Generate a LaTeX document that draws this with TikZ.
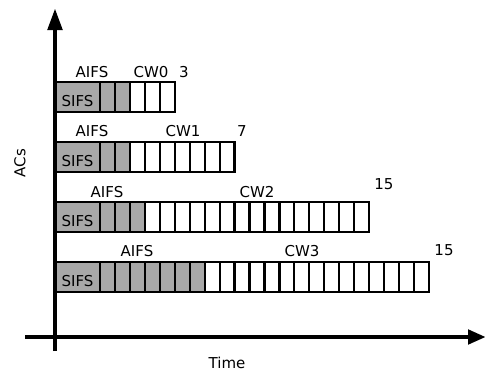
\documentclass[tikz,border=0pt]{standalone}
\usepackage{fontspec}
\setmainfont{DejaVu Sans}
\usetikzlibrary{arrows.meta}
\definecolor{cellgray}{RGB}{168,168,168}
\tikzset{
  cell/.style={draw=black, line width=2.2pt},
  axis/.style={line width=4.8pt, draw=black},
  lbl/.style={font=\fontsize{15}{17}\selectfont, inner sep=0pt},
}
\begin{document}
\begin{tikzpicture}[x=1pt,y=-1pt]
\useasboundingbox (0,0) rectangle (485,372);
\def\w{14.95}
% rows
\foreach \y/\g/\n [count=\r from 0] in {82/2/3, 142/2/7, 202/3/15, 262/7/15}{
  \draw[cell, fill=cellgray] (55,\y) rectangle (100,\y+30);
  \node[lbl] (sifs\r) at (77.5,\y+19.5) {SIFS};
  \foreach \k in {1,...,\g}{
    \draw[cell, fill=cellgray] ({100+(\k-1)*\w},\y) rectangle ({100+\k*\w},\y+30);
  }
  \foreach \k in {1,...,\n}{
    \draw[cell, fill=white] ({100+(\g+\k-1)*\w},\y) rectangle ({100+(\g+\k)*\w},\y+30);
  }
}
% labels
\node[lbl] (aifs0) at (92,72) {AIFS};
\node[lbl] (cw0) at (151,72) {CW0};
\node[lbl] (n0) at (184,72) {3};
\node[lbl] (aifs1) at (92,131) {AIFS};
\node[lbl] (cw1) at (183,131) {CW1};
\node[lbl] (n1) at (242,131) {7};
\node[lbl] (aifs2) at (107,192) {AIFS};
\node[lbl] (cw2) at (257,192) {CW2};
\node[lbl] (n2) at (384,184) {15};
\node[lbl] (aifs3) at (137,251) {AIFS};
\node[lbl] (cw3) at (302,251) {CW3};
\node[lbl] (n3) at (444,250) {15};
\node[lbl, rotate=90] (acs) at (20,163) {ACs};
\node[lbl] (time) at (227,363) {Time};
% axes
\coordinate (ybot) at (55,351);
\coordinate (ytop) at (55,8);
\coordinate (xleft) at (25,337);
\coordinate (xright) at (486,337);
\draw[axis, -{Triangle[length=22pt,width=14pt]}] (ybot) -- (ytop);
\draw[axis, -{Triangle[length=18pt,width=14pt]}] (xleft) -- (xright);
\end{tikzpicture}
\end{document}
